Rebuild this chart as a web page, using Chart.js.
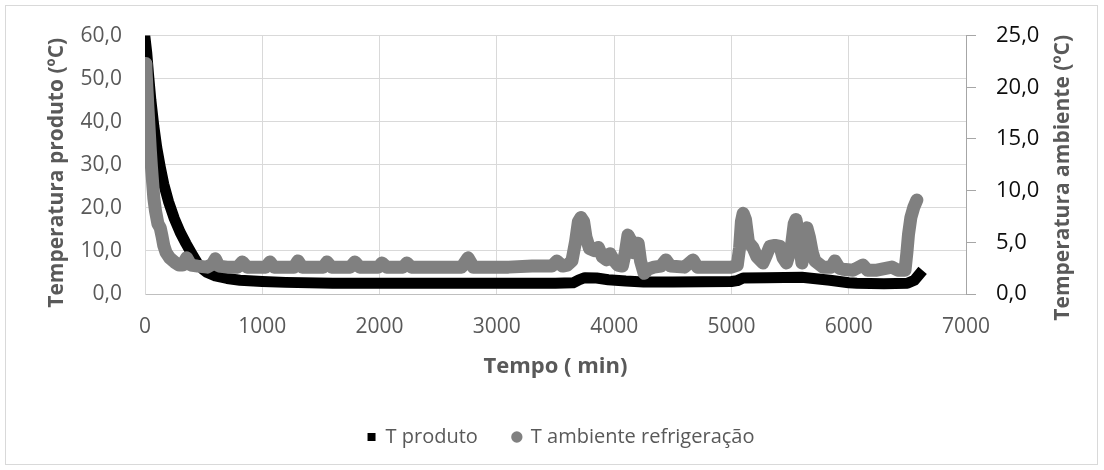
<!DOCTYPE html>
<html>
<head>
<meta charset="utf-8">
<script src="https://cdn.jsdelivr.net/npm/chart.js@4/dist/chart.umd.min.js"></script>
<style>
  html, body { margin: 0; padding: 0; background: #ffffff; }
  #wrap { position: relative; width: 1104px; height: 470px; }
</style>
</head>
<body>
<div id="wrap"><canvas id="grafico" width="1104" height="470"></canvas></div>
<script>
// Temperatura do produto (eixo esquerdo, ºC) ao longo do tempo (min)
const tempoProduto = [0, 15, 30, 50, 75, 100, 130, 160, 200, 250, 300, 350, 400, 450, 500, 530, 600, 700, 810, 1000, 1200, 1600, 2000, 2500, 3000, 3500, 3650, 3700, 3750, 3850, 3950, 4100, 4250, 4500, 5000, 5050, 5100, 5300, 5600, 5700, 5840, 6000, 6070, 6300, 6500, 6560, 6600];
const tProduto = [59.5, 56, 51, 45, 39, 34, 29.5, 25.5, 21.5, 17.5, 14.3, 11.7, 9.3, 7.0, 5.6, 5.0, 4.2, 3.6, 3.2, 2.9, 2.7, 2.5, 2.5, 2.5, 2.5, 2.5, 2.6, 3.3, 3.8, 3.7, 3.3, 3.0, 2.8, 2.8, 2.9, 3.1, 3.7, 3.8, 3.9, 3.6, 3.2, 2.6, 2.5, 2.4, 2.5, 3.2, 4.5];

// Temperatura ambiente da refrigeração (eixo direito, ºC)
const tempoAmbiente = [0, 8, 16, 25, 35, 45, 55, 65, 75, 90, 110, 130, 145, 160, 180, 210, 250, 290, 320, 355, 390, 450, 530, 575, 600, 630, 700, 790, 830, 870, 1030, 1066, 1100, 1270, 1304, 1340, 1520, 1552, 1590, 1750, 1790, 1830, 1990, 2020, 2060, 2200, 2233, 2270, 2700, 2754, 2800, 3100, 3300, 3470, 3512, 3560, 3600, 3640, 3670, 3695, 3717, 3740, 3760, 3790, 3830, 3865, 3900, 3935, 3965, 3995, 4030, 4070, 4095, 4118, 4140, 4165, 4190, 4205, 4225, 4255, 4290, 4340, 4400, 4441, 4480, 4600, 4672, 4710, 4850, 5000, 5050, 5070, 5085, 5100, 5120, 5145, 5183, 5217, 5269, 5300, 5328, 5371, 5413, 5440, 5470, 5510, 5535, 5550, 5570, 5601, 5620, 5644, 5665, 5690, 5712, 5780, 5850, 5882, 5920, 5951, 6036, 6121, 6160, 6240, 6368, 6420, 6480, 6496, 6510, 6530, 6555, 6581];
const tAmbiente = [22.3, 21.8, 20.0, 18.0, 16.0, 14.0, 12.3, 10.8, 9.3, 8.0, 6.8, 6.4, 5.6, 4.7, 4.0, 3.5, 3.1, 2.8, 2.8, 3.5, 2.8, 2.7, 2.6, 2.9, 3.4, 2.7, 2.6, 2.6, 3.1, 2.6, 2.6, 3.1, 2.6, 2.6, 3.2, 2.6, 2.6, 3.1, 2.6, 2.6, 3.1, 2.6, 2.6, 3.0, 2.6, 2.6, 3.0, 2.6, 2.6, 3.5, 2.6, 2.6, 2.7, 2.7, 3.2, 2.7, 2.8, 3.2, 5.0, 7.0, 7.4, 7.0, 5.5, 4.4, 4.2, 4.5, 3.6, 3.3, 3.9, 3.3, 2.8, 2.7, 4.0, 5.7, 5.2, 4.0, 4.9, 4.9, 3.2, 2.0, 2.4, 2.6, 2.7, 3.3, 2.7, 2.6, 3.3, 2.6, 2.6, 2.6, 2.8, 4.5, 7.0, 7.8, 7.2, 5.0, 4.5, 3.6, 3.0, 3.8, 4.6, 4.7, 4.6, 3.5, 3.0, 4.5, 6.8, 7.2, 6.0, 3.0, 4.5, 6.4, 5.5, 4.0, 3.2, 2.6, 2.6, 3.2, 2.5, 2.4, 2.3, 2.8, 2.3, 2.3, 2.6, 2.3, 2.3, 4.0, 5.8, 7.4, 8.4, 9.1];

// Marcas dos eixos
const ticksTempo = [0, 1000, 2000, 3000, 4000, 5000, 6000, 7000];
const ticksProduto = [0, 10, 20, 30, 40, 50, 60];
const ticksAmbiente = [0, 5, 10, 15, 20, 25];

const nomeProduto = 'T produto';
const nomeAmbiente = 'T ambiente refrigeração';
const tituloX = 'Tempo ( min)';
const tituloY = 'Temperatura produto (ºC)';
const tituloY2 = 'Temperatura ambiente (ºC)';

const FONTE = "'Open Sans', 'Noto Sans', sans-serif";
const virgula = v => Number(v).toFixed(1).replace('.', ',');
const pares = (xs, ys) => xs.map((x, i) => ({ x: x, y: ys[i] }));

// Fundo branco e moldura cinza em volta do gráfico
const moldura = {
  id: 'moldura',
  beforeDraw(chart) {
    const c = chart.ctx;
    c.save();
    c.fillStyle = '#ffffff';
    c.fillRect(0, 0, chart.width, chart.height);
    c.strokeStyle = '#d9d9d9';
    c.lineWidth = 1;
    c.strokeRect(5.5, 5.5, 1092, 459);
    c.restore();
  }
};

// Títulos dos dois eixos verticais, ambos lidos de baixo para cima
function tituloVertical(c, texto, x, y) {
  c.save();
  c.translate(x, y);
  c.rotate(-Math.PI / 2);
  c.textAlign = 'center';
  c.textBaseline = 'middle';
  c.fillStyle = '#595959';
  c.font = "bold 21px " + FONTE;
  c.fillText(texto, 0, 0);
  c.restore();
}
const titulosVerticais = {
  id: 'titulosVerticais',
  afterDraw(chart) {
    const a = chart.chartArea;
    const meio = (a.top + a.bottom) / 2;
    tituloVertical(chart.ctx, tituloY, chart.scales.y.left + 29, meio + 8);
    tituloVertical(chart.ctx, tituloY2, chart.scales.y2.right - 31, meio + 13);
  }
};

new Chart(document.getElementById('grafico'), {
  type: 'line',
  data: {
    datasets: [
      {
        label: nomeProduto,
        data: pares(tempoProduto, tProduto),
        yAxisID: 'y',
        borderColor: '#000000',
        backgroundColor: '#000000',
        borderWidth: 11,
        borderCapStyle: 'square',
        borderJoinStyle: 'round',
        pointRadius: 0,
        pointHoverRadius: 0,
        pointStyle: 'rect',
        pointBackgroundColor: '#000000',
        pointBorderWidth: 0,
        tension: 0,
        order: 1
      },
      {
        label: nomeAmbiente,
        data: pares(tempoAmbiente, tAmbiente),
        yAxisID: 'y2',
        borderColor: '#808080',
        backgroundColor: '#808080',
        borderWidth: 13,
        borderCapStyle: 'round',
        borderJoinStyle: 'round',
        pointRadius: 0,
        pointHoverRadius: 0,
        pointStyle: 'circle',
        pointBackgroundColor: '#808080',
        pointBorderWidth: 0,
        tension: 0,
        order: 0
      }
    ]
  },
  options: {
    responsive: false,
    animation: false,
    devicePixelRatio: 1,
    layout: { padding: { left: 28, right: 10, top: 35, bottom: 13 } },
    plugins: {
      tooltip: { enabled: false },
      legend: {
        position: 'bottom',
        labels: {
          usePointStyle: true,
          boxWidth: 8,
          boxHeight: 8,
          padding: 35,
          color: '#595959',
          font: { family: FONTE, size: 20 },
          sort: (a, b) => a.datasetIndex - b.datasetIndex
        }
      }
    },
    scales: {
      x: {
        type: 'linear',
        min: 0,
        max: 7000,
        afterBuildTicks: s => { s.ticks = ticksTempo.map(v => ({ value: v })); },
        afterFit: s => { s.height = 98; },
        ticks: {
          autoSkip: false,
          maxRotation: 0,
          padding: 20,
          color: '#595959',
          font: { family: FONTE, size: 21 },
          callback: v => String(v)
        },
        grid: { color: '#d9d9d9', lineWidth: 1, drawTicks: false },
        border: { color: '#bfbfbf', width: 1 },
        title: {
          display: true,
          text: tituloX,
          color: '#595959',
          font: { family: FONTE, size: 22, weight: 'bold' },
          padding: { top: 0, bottom: 12 }
        }
      },
      y: {
        position: 'left',
        min: 0,
        max: 60,
        afterBuildTicks: s => { s.ticks = ticksProduto.map(v => ({ value: v })); },
        afterFit: s => { s.width = 117; },
        ticks: {
          padding: 23,
          color: '#595959',
          font: { family: FONTE, size: 21 },
          callback: v => virgula(v)
        },
        grid: { color: '#d9d9d9', lineWidth: 1, drawTicks: false },
        border: { color: '#d9d9d9', width: 1 },
        title: { display: false }
      },
      y2: {
        position: 'right',
        min: 0,
        max: 25,
        afterBuildTicks: s => { s.ticks = ticksAmbiente.map(v => ({ value: v })); },
        afterFit: s => { s.width = 128; },
        ticks: {
          padding: 20,
          color: '#0d0d0d',
          font: { family: FONTE, size: 22 },
          callback: v => virgula(v)
        },
        grid: { drawOnChartArea: false, color: '#a6a6a6', tickLength: 10, lineWidth: 1 },
        border: { color: '#a6a6a6', width: 1 },
        title: { display: false }
      }
    }
  },
  plugins: [moldura, titulosVerticais]
});
</script>
</body>
</html>
